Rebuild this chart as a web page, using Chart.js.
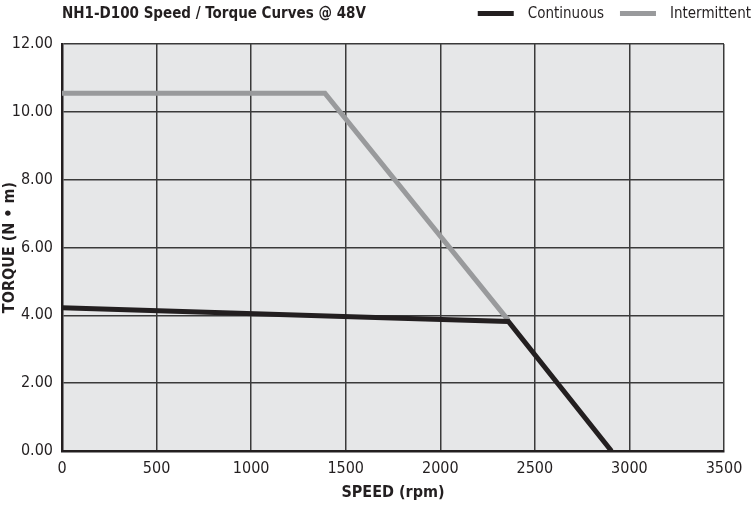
<!DOCTYPE html>
<html>
<head>
<meta charset="utf-8">
<script src="https://cdn.jsdelivr.net/npm/chart.js@4"></script>
<style>
  html, body { margin: 0; padding: 0; background: #fff; }
  canvas { display: block; }
</style>
</head>
<body>
<canvas id="chart" width="756" height="507"></canvas>
<script>
// speed (rpm) / torque (N·m) points
const continuousSpeed = [0, 1700, 2360, 2905];
const continuousTorque = [4.22, 3.93, 3.82, 0];
const intermittentSpeed = [0, 1390, 2360];
const intermittentTorque = [10.55, 10.55, 3.85];

const speedTicks = [0, 500, 1000, 1500, 2000, 2500, 3000, 3500];
const torqueTicks = [0, 2, 4, 6, 8, 10, 12];

const FONT = '"Liberation Sans Narrow", "DejaVu Sans Condensed", Arial, sans-serif';

const toPoints = (xs, ys) => xs.map((x, i) => ({ x, y: ys[i] }));

// grey plot background + header (title and legend on the same row)
const sheetPlugin = {
  id: 'sheet',
  beforeDraw(chart) {
    const { ctx, chartArea: a } = chart;
    ctx.save();
    ctx.fillStyle = '#e6e7e8';
    ctx.fillRect(a.left, a.top, a.right - a.left, a.bottom - a.top);
    ctx.restore();
  },
  afterDraw(chart) {
    const ctx = chart.ctx;
    ctx.save();
    ctx.textBaseline = 'middle';
    ctx.fillStyle = '#231f20';
    ctx.font = 'bold 15px ' + FONT;
    ctx.textAlign = 'left';
    ctx.fillText('NH1-D100 Speed / Torque Curves @ 48V', 62, 14);

    // legend, laid out right to left from the right edge
    ctx.font = '15px ' + FONT;
    const items = [
      { label: 'Intermittent', color: '#999a9c' },
      { label: 'Continuous', color: '#231f20' }
    ];
    let right = 751;
    items.forEach((it) => {
      const w = ctx.measureText(it.label).width;
      const textX = right - w;
      ctx.fillStyle = '#231f20';
      ctx.fillText(it.label, textX, 14);
      ctx.fillStyle = it.color;
      ctx.fillRect(textX - 50, 11, 36, 5);
      right = textX - 66;
    });
    ctx.restore();
  }
};

new Chart(document.getElementById('chart'), {
  type: 'scatter',
  data: {
    datasets: [
      {
        label: 'Intermittent',
        data: toPoints(intermittentSpeed, intermittentTorque),
        showLine: true,
        borderColor: '#999a9c',
        borderWidth: 5,
        pointRadius: 0,
        borderJoinStyle: 'miter',
        order: 2
      },
      {
        label: 'Continuous',
        data: toPoints(continuousSpeed, continuousTorque),
        showLine: true,
        borderColor: '#231f20',
        borderWidth: 5,
        pointRadius: 0,
        borderJoinStyle: 'miter',
        order: 1
      }
    ]
  },
  options: {
    responsive: false,
    animation: false,
    layout: { padding: { top: 44, right: 32, left: 0, bottom: 0 } },
    plugins: {
      legend: { display: false },
      tooltip: { enabled: false }
    },
    scales: {
      x: {
        type: 'linear',
        min: 0,
        max: 3500,
        afterBuildTicks: (scale) => { scale.ticks = speedTicks.map((v) => ({ value: v })); },
        afterFit: (scale) => { scale.height = 56; },
        grid: { color: '#3a3a3a', lineWidth: 1.5, drawTicks: false },
        border: { color: '#231f20', width: 2.5 },
        ticks: {
          color: '#231f20',
          padding: 8,
          maxRotation: 0,
          font: { family: FONT, size: 16 },
          callback: (v) => String(v)
        },
        title: {
          display: true,
          text: 'SPEED (rpm)',
          color: '#231f20',
          padding: { top: 0, bottom: 5 },
          font: { family: FONT, size: 16, weight: 'bold' }
        }
      },
      y: {
        min: 0,
        max: 12,
        afterBuildTicks: (scale) => { scale.ticks = torqueTicks.map((v) => ({ value: v })); },
        afterFit: (scale) => { scale.width = 62; },
        grid: { color: '#3a3a3a', lineWidth: 1.5, drawTicks: false },
        border: { color: '#231f20', width: 2.5 },
        ticks: {
          color: '#231f20',
          padding: 9,
          font: { family: FONT, size: 16 },
          callback: (v) => v.toFixed(2)
        },
        title: {
          display: true,
          text: 'TORQUE (N • m)',
          color: '#231f20',
          padding: { top: 0, bottom: 0 },
          font: { family: FONT, size: 16, weight: 'bold' }
        }
      }
    }
  },
  plugins: [sheetPlugin]
});
</script>
</body>
</html>
